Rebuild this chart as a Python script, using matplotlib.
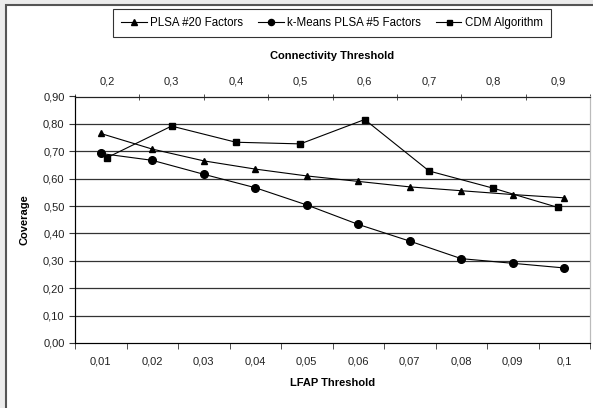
import matplotlib.pyplot as plt
from matplotlib.patches import Rectangle

plt.rcParams['font.family'] = ['Liberation Sans', 'DejaVu Sans']
plt.rcParams['font.size'] = 8

lfap = ['0,01', '0,02', '0,03', '0,04', '0,05', '0,06', '0,07', '0,08', '0,09', '0,1']
conn = ['0,2', '0,3', '0,4', '0,5', '0,6', '0,7', '0,8', '0,9']
plsa20 = [0.765, 0.708, 0.665, 0.635, 0.61, 0.59, 0.57, 0.556, 0.542, 0.53]
kmeans5 = [0.692, 0.667, 0.616, 0.567, 0.504, 0.433, 0.372, 0.308, 0.291, 0.274]
cdm = [0.677, 0.792, 0.733, 0.727, 0.816, 0.628, 0.565, 0.495]
yticks = [i / 10 for i in range(10)]

fig = plt.figure(figsize=(5.93, 4.08), dpi=100)
fig.patch.set_facecolor('#ececec')
fig.patches.append(Rectangle((6 / 593, -0.05), 1.1, 1 - 5 / 408 + 0.05, transform=fig.transFigure,
                             facecolor='white', edgecolor='#555555', linewidth=1.5, zorder=-5))

ax = fig.add_axes([75 / 593, 65 / 408, 515 / 593, 246.5 / 408])
ax.set_facecolor('white')
x1 = list(range(len(lfap)))
l1, = ax.plot(x1, plsa20, color='black', lw=0.8, marker='^', ms=5, label='PLSA #20 Factors', zorder=3)
l2, = ax.plot(x1, kmeans5, color='black', lw=0.8, marker='o', ms=5.5, label='k-Means PLSA #5 Factors', zorder=3)
ax.set_xlim(-0.5, len(lfap) - 0.5)
ax.set_ylim(0, 0.9)
ax.set_yticks(yticks)
ax.set_yticklabels([('%.2f' % v).replace('.', ',') for v in yticks])
ax.set_xticks(x1)
ax.set_xticklabels(lfap)
ax.set_xticks([i - 0.5 for i in range(len(lfap) + 1)], minor=True)
ax.tick_params(axis='x', which='major', length=0, pad=10, colors='#222222')
ax.tick_params(axis='x', which='minor', length=4, direction='out', color='#333333')
ax.tick_params(axis='y', length=4, direction='out', color='#333333', labelcolor='#222222')
for v in yticks[1:]:
    ax.axhline(v, color='#333333', lw=0.9, zorder=1)
ax.spines['left'].set_color('#333333')
ax.spines['bottom'].set_color('#333333')
ax.spines['right'].set_color('#bbbbbb')
ax.set_xlabel('LFAP Threshold', fontweight='bold', labelpad=8)
ax.set_ylabel('Coverage', fontweight='bold', labelpad=10)

ax2 = ax.twiny()
x2 = list(range(len(conn)))
l3, = ax2.plot(x2, cdm, color='black', lw=0.8, marker='s', ms=4.5, label='CDM Algorithm', zorder=3)
ax2.set_xlim(-0.5, len(conn) - 0.5)
ax2.set_xticks(x2)
ax2.set_xticklabels(conn)
ax2.set_xticks([i - 0.5 for i in range(len(conn) + 1)], minor=True)
ax2.tick_params(axis='x', which='major', length=0, pad=7, colors='#222222')
ax2.tick_params(axis='x', which='minor', length=5, direction='inout', color='#333333')
ax2.spines['top'].set_color('#222222')
ax2.spines['right'].set_color('#bbbbbb')
ax2.set_xlabel('Connectivity Threshold', fontweight='bold', labelpad=13)

leg = fig.legend(handles=[l1, l2, l3], loc='center', bbox_to_anchor=(332 / 593, 1 - 23 / 408),
                 ncol=3, frameon=True, fancybox=False, edgecolor='black', handlelength=2.2,
                 handletextpad=0.3, columnspacing=1.3, borderpad=0.7, markerscale=0.8,
                 prop={'size': 8.3})
leg.get_frame().set_linewidth(0.8)

fig.savefig('out.png', dpi=100)
